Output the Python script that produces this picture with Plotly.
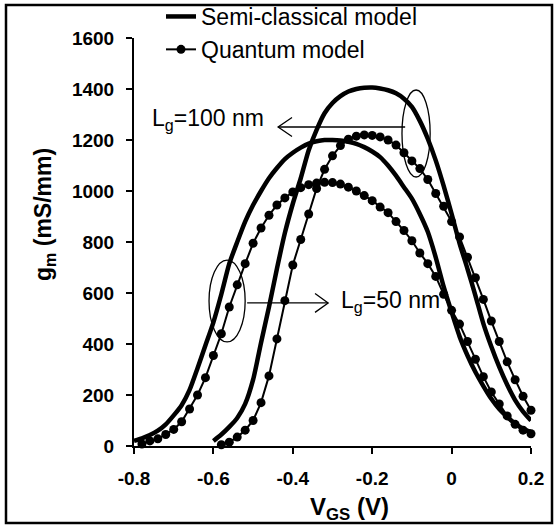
import plotly.graph_objects as go

# ---------------- data ----------------
v_semi_100 = [-0.60, -0.58, -0.56, -0.54, -0.52, -0.50, -0.48, -0.46, -0.44, -0.42,
              -0.40, -0.38, -0.36, -0.34, -0.32, -0.30, -0.28, -0.26, -0.24, -0.22,
              -0.20, -0.18, -0.16, -0.14, -0.12, -0.10, -0.08, -0.06, -0.04, -0.02,
              0.00, 0.02, 0.04, 0.06, 0.08, 0.10, 0.12, 0.14, 0.16, 0.18, 0.20]
gm_semi_100 = [20, 45, 75, 110, 165, 260, 405, 545, 695, 835,
               950, 1050, 1160, 1240, 1305, 1345, 1372, 1390, 1400, 1405,
               1406, 1402, 1395, 1383, 1362, 1330, 1275, 1205, 1120, 1020,
               910, 795, 695, 590, 480, 390, 310, 240, 180, 135, 100]

v_semi_50 = [-0.80, -0.78, -0.76, -0.74, -0.72, -0.70, -0.68, -0.66, -0.64, -0.62,
             -0.60, -0.58, -0.56, -0.54, -0.52, -0.50, -0.48, -0.46, -0.44, -0.42,
             -0.40, -0.38, -0.36, -0.34, -0.32, -0.30, -0.28, -0.26, -0.24, -0.22,
             -0.20, -0.18, -0.16, -0.14, -0.12, -0.10, -0.08, -0.06, -0.04, -0.02,
             0.00, 0.02, 0.04, 0.06, 0.08, 0.10, 0.12, 0.14, 0.16, 0.18, 0.20]
gm_semi_50 = [20, 30, 43, 60, 85, 120, 160, 220, 305, 395,
              485, 595, 715, 800, 880, 945, 1000, 1050, 1090, 1125,
              1150, 1170, 1186, 1195, 1200, 1200, 1198, 1193, 1185, 1172,
              1155, 1133, 1100, 1060, 1015, 970, 910, 840, 740, 625,
              525, 430, 355, 290, 235, 185, 145, 114, 88, 68, 55]

v_quant_100 = [-0.58, -0.56, -0.54, -0.52, -0.50, -0.48, -0.46, -0.44, -0.42, -0.40,
               -0.38, -0.36, -0.34, -0.32, -0.30, -0.28, -0.26, -0.24, -0.22, -0.20,
               -0.18, -0.16, -0.14, -0.12, -0.10, -0.08, -0.06, -0.04, -0.02, 0.00,
               0.02, 0.04, 0.06, 0.08, 0.10, 0.12, 0.14, 0.16, 0.18, 0.20]
gm_quant_100 = [5, 15, 35, 62, 100, 170, 275, 420, 570, 710,
                810, 910, 1010, 1085, 1138, 1178, 1203, 1215, 1220, 1218,
                1212, 1200, 1180, 1150, 1118, 1088, 1045, 990, 940, 880,
                820, 740, 660, 575, 490, 410, 330, 260, 195, 140]

v_quant_50 = [-0.78, -0.76, -0.74, -0.72, -0.70, -0.68, -0.66, -0.64, -0.62, -0.60,
              -0.58, -0.56, -0.54, -0.52, -0.50, -0.48, -0.46, -0.44, -0.42, -0.40,
              -0.38, -0.36, -0.34, -0.32, -0.30, -0.28, -0.26, -0.24, -0.22, -0.20,
              -0.18, -0.16, -0.14, -0.12, -0.10, -0.08, -0.06, -0.04, -0.02, 0.00,
              0.02, 0.04, 0.06, 0.08, 0.10, 0.12, 0.14, 0.16, 0.18, 0.20]
gm_quant_50 = [8, 20, 28, 45, 65, 95, 145, 200, 268, 355,
               440, 545, 632, 715, 795, 855, 905, 945, 973, 996,
               1013, 1025, 1031, 1034, 1033, 1027, 1015, 1000, 982, 962,
               937, 915, 880, 845, 805, 757, 715, 665, 595, 532,
               478, 410, 340, 272, 212, 165, 118, 85, 62, 48]

x_ticks = [-0.8, -0.6, -0.4, -0.2, 0.0, 0.2]
x_tick_text = ["-0.8", "-0.6", "-0.4", "-0.2", "0", "0.2"]
y_ticks = [0, 200, 400, 600, 800, 1000, 1200, 1400, 1600]

FONT = "Liberation Sans, Arial, sans-serif"

fig = go.Figure()

semi_line = dict(color="black", width=4.5, shape="spline", smoothing=0.6)
quant_line = dict(color="black", width=2)
quant_marker = dict(color="black", size=9, symbol="circle")

fig.add_trace(go.Scatter(x=v_semi_100, y=gm_semi_100, mode="lines", line=semi_line,
                         name="Semi-classical model", legendrank=1, cliponaxis=False))
fig.add_trace(go.Scatter(x=v_semi_50, y=gm_semi_50, mode="lines", line=semi_line,
                         showlegend=False, cliponaxis=False))
fig.add_trace(go.Scatter(x=v_quant_100, y=gm_quant_100, mode="lines+markers",
                         line=quant_line, marker=quant_marker,
                         name="Quantum model", legendrank=2, cliponaxis=False))
fig.add_trace(go.Scatter(x=v_quant_50, y=gm_quant_50, mode="lines+markers",
                         line=quant_line, marker=quant_marker,
                         showlegend=False, cliponaxis=False))

axis_common = dict(showline=True, linecolor="black", linewidth=2, ticks="outside",
                   ticklen=6, tickwidth=2, tickcolor="black", showgrid=False,
                   zeroline=False, mirror=False,
                   tickfont=dict(family=FONT, size=19, color="black", weight="bold"))

fig.update_xaxes(range=[-0.8, 0.2], tickvals=x_ticks, ticktext=x_tick_text,
                 ticklabelstandoff=8, **axis_common)
fig.update_yaxes(range=[0, 1600], tickvals=y_ticks, ticklabelstandoff=8, **axis_common)

W, H = 558, 527
L, R, T, B = 134, 27, 38, 81
pw, ph = W - L - R, H - T - B


def px(x):
    return (x - L) / pw


def py(y):
    return (H - B - y) / ph


shapes = []
# outer frame
shapes.append(dict(type="rect", xref="paper", yref="paper", x0=px(6), x1=px(552),
                   y0=py(523), y1=py(5), line=dict(color="black", width=2.5)))
# ellipses (data coords)
shapes.append(dict(type="circle", xref="x", yref="y", x0=-0.125, x1=-0.054,
                   y0=1055, y1=1396, line=dict(color="black", width=1.3)))
shapes.append(dict(type="circle", xref="x", yref="y", x0=-0.611, x1=-0.520,
                   y0=408, y1=729, line=dict(color="black", width=1.3)))
# arrow to Lg=100 nm (pointing left)
shapes.append(dict(type="line", xref="x", yref="y", x0=-0.437, x1=-0.117,
                   y0=1251, y1=1251, line=dict(color="black", width=1.3)))
shapes.append(dict(type="path", xref="x", yref="y",
                   path="M -0.402,1288 L -0.437,1251 L -0.402,1214",
                   line=dict(color="black", width=1.3)))
# arrow to Lg=50 nm (pointing right)
shapes.append(dict(type="line", xref="x", yref="y", x0=-0.515, x1=-0.311,
                   y0=561, y1=561, line=dict(color="black", width=1.3)))
shapes.append(dict(type="path", xref="x", yref="y",
                   path="M -0.344,598 L -0.311,561 L -0.344,524",
                   line=dict(color="black", width=1.3)))

annotations = [
    dict(text="L<sub>g</sub>=100 nm", xref="paper", yref="paper", x=px(150), y=py(120),
         xanchor="left", yanchor="middle", showarrow=False,
         font=dict(family=FONT, size=23, color="black")),
    dict(text="L<sub>g</sub>=50 nm", xref="paper", yref="paper", x=px(339), y=py(302),
         xanchor="left", yanchor="middle", showarrow=False,
         font=dict(family=FONT, size=23, color="black")),
    dict(text="<b>g<sub>m</sub> (mS/mm)</b>", xref="paper", yref="paper", x=px(44), y=py(215),
         xanchor="center", yanchor="middle", showarrow=False, textangle=-90,
         font=dict(family=FONT, size=23, color="black")),
    dict(text="<b>V<sub>GS</sub> (V)</b>", xref="paper", yref="paper", x=px(349), y=py(509),
         xanchor="center", yanchor="middle", showarrow=False,
         font=dict(family=FONT, size=24, color="black")),
]

fig.update_layout(
    width=W, height=H,
    margin=dict(l=L, r=R, t=T, b=B, autoexpand=False),
    paper_bgcolor="white", plot_bgcolor="white",
    shapes=shapes, annotations=annotations,
    showlegend=True,
    legend=dict(x=px(161), y=py(-5), xanchor="left", yanchor="top",
                bgcolor="rgba(0,0,0,0)", borderwidth=0,
                font=dict(family=FONT, size=23, color="black"),
                itemwidth=30, tracegroupgap=0),
)

fig.write_html("out.html")
